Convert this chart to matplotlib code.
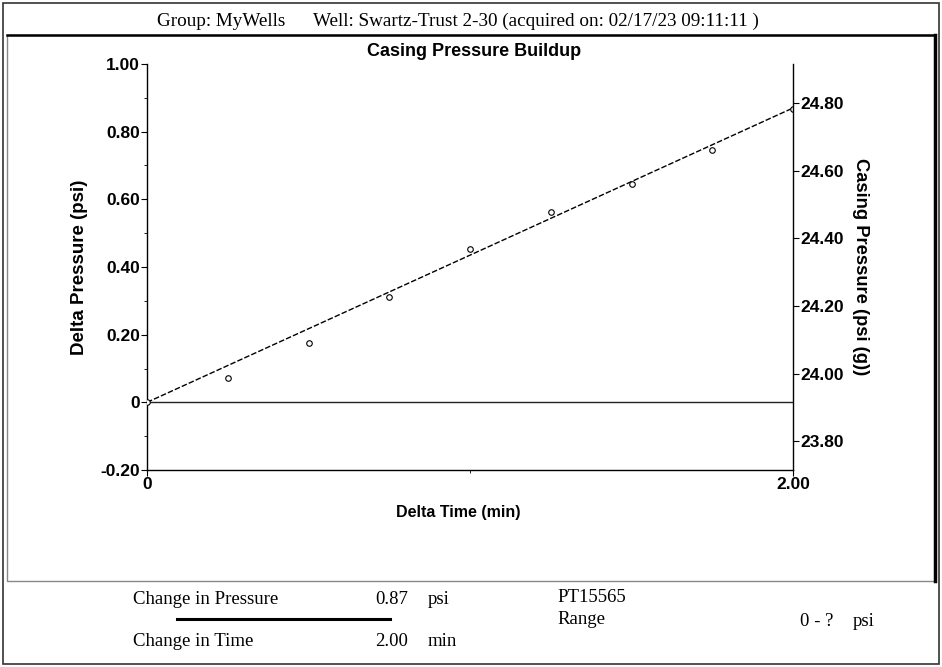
import numpy as np
import matplotlib
matplotlib.use('Agg')
import matplotlib.pyplot as plt
from matplotlib.lines import Line2D
from matplotlib.patches import Rectangle
from matplotlib.ticker import MultipleLocator, FixedLocator

#
# Data
#
time_min   = [0.0, 0.25, 0.50, 0.75, 1.00, 1.25, 1.50, 1.75, 2.00]
delta_psi  = [0.0, 0.071, 0.176, 0.312, 0.453, 0.563, 0.646, 0.746, 0.868]
trend_time = [0.0, 2.00]
trend_psi  = [0.0, 0.87]
base_psi   = 23.915                        # casing pressure at t=0 [psi (g)]
left_ticks  = [-0.20, 0, 0.20, 0.40, 0.60, 0.80, 1.00]
left_labels = ['-0.20', '0', '0.20', '0.40', '0.60', '0.80', '1.00']
right_ticks = [23.80, 24.00, 24.20, 24.40, 24.60, 24.80]
x_ticks     = [0, 2.00]
x_labels    = ['0', '2.00']

header_group = 'Group: MyWells'
header_well  = 'Well: Swartz-Trust 2-30 (acquired on: 02/17/23 09:11:11 )'
title        = 'Casing Pressure Buildup'

W, H = 942, 667
sans  = ['Liberation Sans', 'DejaVu Sans']
serif = ['Liberation Serif', 'DejaVu Serif']

def fx(px):
    return px / W

def fy(py):
    return 1 - py / H

fig = plt.figure(figsize=(W / 100, H / 100), dpi=100)
fig.patch.set_facecolor('white')

#
# Frames
#
fig.add_artist(Rectangle((fx(3), fy(664)), fx(936) , 661 / H, fill=False,
                         ec='#333333', lw=1.2, transform=fig.transFigure))
fig.add_artist(Rectangle((fx(7), fy(581)), fx(928), 546 / H, fill=False,
                         ec='#888888', lw=1.0, transform=fig.transFigure))
fig.add_artist(Line2D([fx(7), fx(935)], [fy(35), fy(35)], color='black', lw=1.8,
                      transform=fig.transFigure))
fig.add_artist(Line2D([fx(935), fx(935)], [fy(35), fy(581)], color='black', lw=2.5,
                      transform=fig.transFigure))

#
# Main axes
#
ax = fig.add_axes([fx(147), fy(470), fx(793) - fx(147), (470 - 64) / H])
ax.plot(trend_time, trend_psi, color='black', lw=1.0, ls=(0, (4, 1.5)), zorder=3)
ax.plot(time_min, delta_psi, ls='none', marker='o', ms=4, mfc='white',
        mec='black', mew=0.8, zorder=4)
ax.axhline(0, color='#222222', lw=1.0, zorder=2)

ax.set_xlim(0, 2.0)
ax.set_ylim(-0.20, 1.00)
ax.spines['top'].set_visible(False)
ax.spines['right'].set_visible(False)
for s in ['left', 'bottom']:
    ax.spines[s].set_linewidth(1.0)

ax.yaxis.set_major_locator(FixedLocator(left_ticks))
ax.set_yticklabels(left_labels)
ax.yaxis.set_minor_locator(MultipleLocator(0.1))
ax.xaxis.set_major_locator(FixedLocator(x_ticks))
ax.set_xticklabels(x_labels)
ax.xaxis.set_minor_locator(FixedLocator([1.0]))
ax.tick_params(axis='both', which='major', length=4, width=0.8, pad=1,
               labelsize=12.5)
ax.tick_params(axis='both', which='minor', length=2, width=0.6)
for lab in ax.get_xticklabels() + ax.get_yticklabels():
    lab.set_fontweight('bold')
    lab.set_family(sans)

ax.set_xlabel('Delta Time (min)', fontsize=11.5, fontweight='bold', family=sans)
ax.xaxis.set_label_coords((458 - 147) / (793 - 147), -0.085)
ax.set_ylabel('Delta Pressure (psi)', fontsize=13.5, fontweight='bold', family=sans,
              labelpad=9)

#
# Right axis (absolute casing pressure)
#
ax2 = ax.twinx()
ax2.set_ylim(base_psi - 0.20, base_psi + 1.00)
ax2.yaxis.set_major_locator(FixedLocator(right_ticks))
ax2.set_yticklabels(['%.2f' % v for v in right_ticks])
for s in ['top', 'left', 'bottom']:
    ax2.spines[s].set_visible(False)
ax2.spines['right'].set_linewidth(1.0)
ax2.tick_params(axis='y', length=4, width=0.8, pad=1, labelsize=12.5)
for lab in ax2.get_yticklabels():
    lab.set_fontweight('bold')
    lab.set_family(sans)
ax2.set_ylabel('Casing Pressure (psi (g))', fontsize=13.2, fontweight='bold',
               family=sans, rotation=270, labelpad=18)

#
# Header and title
#
hs = 13.8
fig.text(fx(157), fy(21), header_group, family=serif, fontsize=hs, va='center')
fig.text(fx(313), fy(21), header_well, family=serif, fontsize=hs, va='center')
fig.text(fx(474), fy(51), title, family=sans, fontsize=13, fontweight='bold',
         ha='center', va='center')

#
# Footer
#
fs = 13.5
fig.text(fx(133), fy(599), 'Change in Pressure', family=serif, fontsize=fs, va='center')
fig.text(fx(408), fy(599), '0.87', family=serif, fontsize=fs, va='center', ha='right')
fig.text(fx(428), fy(599), 'psi', family=serif, fontsize=fs, va='center')
fig.add_artist(Line2D([fx(177), fx(390)], [fy(619), fy(619)], color='black', lw=2.2,
                      transform=fig.transFigure))
fig.text(fx(133), fy(641), 'Change in Time', family=serif, fontsize=fs, va='center')
fig.text(fx(408), fy(641), '2.00', family=serif, fontsize=fs, va='center', ha='right')
fig.text(fx(428), fy(641), 'min', family=serif, fontsize=fs, va='center')
fig.text(fx(557), fy(597), 'PT15565', family=serif, fontsize=fs, va='center')
fig.text(fx(557), fy(620), 'Range', family=serif, fontsize=fs, va='center')
fig.text(fx(800), fy(621), '0 - ?', family=serif, fontsize=fs, va='center')
fig.text(fx(853), fy(621), 'psi', family=serif, fontsize=fs, va='center')

fig.savefig('out.png', dpi=100)
